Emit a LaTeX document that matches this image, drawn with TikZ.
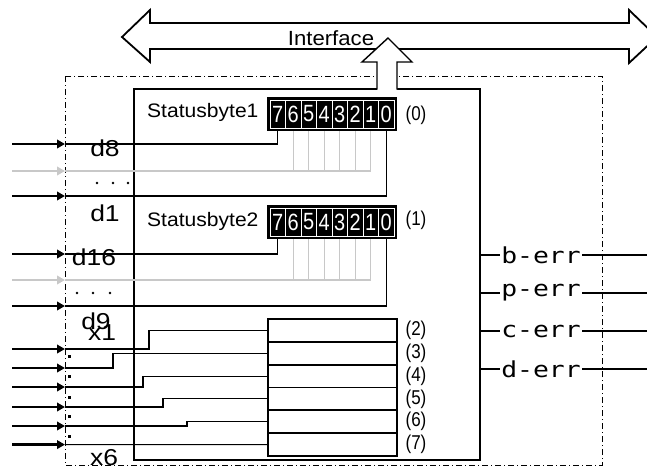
\documentclass[tikz,border=0pt]{standalone}
\usepackage{fontspec}
\setmainfont{Liberation Sans}
\newfontfamily\wfont[FakeStretch=1.08]{Liberation Sans}
\newfontfamily\bitfnt[FakeStretch=0.85]{Liberation Sans}
\newfontfamily\lblfnt[FakeStretch=1.15]{Liberation Sans}
\newfontfamily\regfnt[FakeStretch=0.85]{Liberation Sans}
\newfontfamily\errfnt[FakeStretch=1.2]{DejaVu Sans Mono}
\usetikzlibrary{arrows.meta}
\definecolor{lgrey}{RGB}{200,200,200}
\begin{document}
\begin{tikzpicture}[x=1pt,y=-1pt,
  wire/.style={line width=1.1pt},
  gwire/.style={line width=1.1pt, draw=lgrey},
  inarrow/.style={line width=2.7pt, -{Triangle[length=8pt,width=8.5pt]}},
  ginarrow/.style={inarrow, draw=lgrey, fill=lgrey},
  outwire/.style={line width=2.8pt},
  bitcell/.style={minimum width=15.5pt, minimum height=28pt, inner sep=0pt, text=white, font=\bitfnt\fontsize{23.5}{23.5}\selectfont},
  sbox/.style={fill=black, minimum width=130pt, minimum height=34pt, inner sep=0pt},
  regrow/.style={draw, line width=1.8pt, minimum width=129pt, minimum height=22.8pt, inner sep=0pt},
  reglbl/.style={font=\regfnt\fontsize{20}{20}\selectfont, inner sep=0pt},
  errlbl/.style={font=\errfnt\fontsize{22}{22}\selectfont, inner sep=1.5pt},
  dlbl/.style={font=\lblfnt\fontsize{23}{23}\selectfont, inner sep=0pt},
  sblbl/.style={font=\wfont\fontsize{19.5}{19.5}\selectfont, inner sep=0pt, anchor=west},
]
\useasboundingbox (0,0) rectangle (647,471);

% outer dash-dot frame
\draw[line width=1pt, dash pattern=on 6pt off 3pt on 1pt off 3pt] (65,76) rectangle (602,465);
\foreach \y in {356,376,397,416,436} \fill (68,\y-1) rectangle (70.5,\y+1.5);

% double arrow (interface)
\draw[line width=1.8pt, line join=miter] (122,37) -- (150,10) -- (150,23) -- (629,23) -- (629,10) -- (657,37) -- (629,63) -- (629,49) -- (150,49) -- (150,62) -- cycle;
\node[font=\wfont\fontsize{20.5}{20.5}\selectfont, inner sep=0pt] (iface) at (331,38) {Interface};

% inner box
\node[draw, line width=1.4pt, minimum width=346pt, minimum height=371pt, inner sep=0pt] (ibox) at (307,274.5) {};

% up arrow
\fill[white] (377,90.6) -- (377,62) -- (362,62) -- (388,38) -- (412,62) -- (397,62) -- (397,90.6) -- cycle;
\draw[line width=1.4pt, line join=miter] (377,89.7) -- (377,62) -- (362,62) -- (388,38) -- (412,62) -- (397,62) -- (397,89.7);

% status byte boxes
\foreach \s/\t in {1/97,2/205} {
  \node[sbox] (box\s) at (332,\t+17) {};
  \draw[white, line width=0.9pt] (270,\t+3) rectangle (394,\t+31);
  \foreach \k in {1,...,7} \draw[white, line width=0.9pt] (270+15.5*\k,\t+3) -- (270+15.5*\k,\t+31);
  \foreach \b in {0,...,7} \node[bitcell] (s\s b\b) at (277.75+15.5*7-15.5*\b,\t+17) {\b};
}
\node[sblbl] (sb1) at (147,112) {Statusbyte1};
\node[sblbl] (sb2) at (147,221) {Statusbyte2};
\node[reglbl] (p0) at (416,115) {(0)};
\node[reglbl] (p1) at (416,220) {(1)};

% inputs of status byte 1 and 2
\foreach \s/\ya/\yg/\yb in {1/144/171/196, 2/254/280/306} {
  \coordinate (ia\s) at (12,\ya); \coordinate (a\s) at (65,\ya);
  \coordinate (ig\s) at (12,\yg); \coordinate (g\s) at (65,\yg);
  \coordinate (ib\s) at (12,\yb); \coordinate (z\s) at (65,\yb);
  \draw[gwire] (s\s b1 |- box\s.south) |- (g\s);
  \foreach \k in {2,...,6} \draw[gwire] (s\s b\k |- box\s.south) -- (s\s b\k |- g\s);
  \draw[wire] (s\s b7 |- box\s.south) |- (a\s);
  \draw[wire] (s\s b0 |- box\s.south) |- (z\s);
  \draw[inarrow] (ia\s) -- (a\s);
  \draw[ginarrow] (ig\s) -- (g\s);
  \draw[inarrow] (ib\s) -- (z\s);
}
\foreach \x in {97,113,128} \fill (\x,183) circle (1.4pt);
\foreach \x in {77,93,110} \fill (\x,293) circle (1.4pt);

\node[dlbl] (ld8) at (105,148) {d8};
\node[dlbl] (ld1) at (105,213) {d1};
\node[dlbl] (ld16) at (94,257) {d16};
\node[dlbl] (ld9) at (96,321) {d9};
\node[dlbl] (lx1) at (102,333) {x1};
\node[dlbl] (lx6) at (104,458) {x6};

% register stack (2)..(7)
\foreach \i/\n in {0/2,1/3,2/4,3/5,4/6,5/7} {
  \node[regrow] (r\n) at (332.5,330.4+22.83*\i) {};
  \node[reglbl] (l\n) at (416,330.4+22.83*\i) {(\n)};
}
\foreach \i/\y/\bx/\n in {1/349/149/2, 2/368/113/3, 3/387/143/4, 4/407/163/5, 5/426/187/6} {
  \coordinate (xs\i) at (12,\y); \coordinate (x\i) at (65,\y);
  \coordinate (xb\i) at (\bx,\y);
  \draw[wire] (x\i) -- (xb\i) |- (r\n.west);
  \draw[inarrow] (xs\i) -- (x\i);
}
\coordinate (xs6) at (12,444.6); \coordinate (x6) at (65,444.6);
\draw[wire] (x6) -- (r7.west);
\draw[inarrow] (xs6) -- (x6);

% error outputs
\foreach \n/\y in {b/255, p/293, c/331, d/369} {
  \node[errlbl] (err\n) at (541,\y) {\n-err};
  \coordinate (o\n) at (602,\y); \coordinate (e\n) at (650,\y);
  \draw[wire] (ibox.east |- err\n) -- (err\n.west);
  \draw[wire] (err\n.east) -- (o\n);
  \draw[outwire] (o\n) -- (e\n);
}
\end{tikzpicture}
\end{document}
